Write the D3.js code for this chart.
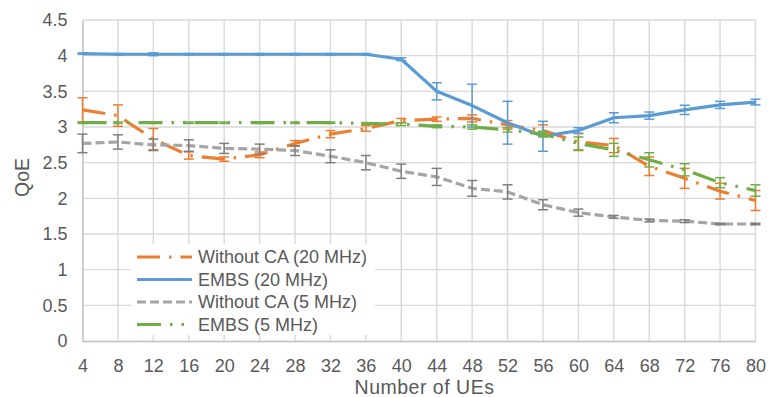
<!DOCTYPE html>
<html>
<head>
<meta charset="utf-8">
<script src="https://cdn.jsdelivr.net/npm/d3@7/dist/d3.min.js"></script>
<style>
  html, body { margin: 0; padding: 0; background: #fff; }
  svg { display: block; font-family: "Liberation Sans", Arial, sans-serif; }
</style>
</head>
<body>
<svg id="chart" width="768" height="397"></svg>
<script>
const categories = [4, 8, 12, 16, 20, 24, 28, 32, 36, 40, 44, 48, 52, 56, 60, 64, 68, 72, 76, 80];
const yTicks = [0, 0.5, 1, 1.5, 2, 2.5, 3, 3.5, 4, 4.5];

const seriesNames = ["Without CA (20 MHz)", "EMBS (20 MHz)", "Without CA (5 MHz)", "EMBS (5 MHz)"];

const withoutCA20 = [3.24, 3.16, 2.83, 2.60, 2.55, 2.61, 2.77, 2.90, 2.98, 3.09, 3.11, 3.12, 3.03, 2.95, 2.79, 2.74, 2.45, 2.28, 2.10, 1.97];
const withoutCA20Err = [0.17, 0.15, 0.15, 0.05, 0.03, 0.04, 0.04, 0.05, 0.04, 0.03, 0.03, 0.05, 0.06, 0.08, 0.12, 0.10, 0.13, 0.14, 0.11, 0.14];

const embs20 = [4.03, 4.02, 4.02, 4.02, 4.02, 4.02, 4.02, 4.02, 4.02, 3.95, 3.50, 3.30, 3.06, 2.87, 2.95, 3.13, 3.16, 3.24, 3.31, 3.35];
const embs20Err = [0.01, 0.01, 0.02, 0.01, 0.01, 0.01, 0.01, 0.01, 0.01, 0.02, 0.12, 0.30, 0.30, 0.21, 0.04, 0.07, 0.05, 0.065, 0.05, 0.04];

const withoutCA5 = [2.77, 2.79, 2.75, 2.74, 2.70, 2.69, 2.67, 2.59, 2.50, 2.38, 2.30, 2.14, 2.09, 1.91, 1.80, 1.74, 1.69, 1.68, 1.64, 1.64];
const withoutCA5Err = [0.13, 0.10, 0.08, 0.08, 0.07, 0.07, 0.07, 0.09, 0.10, 0.10, 0.12, 0.11, 0.10, 0.07, 0.05, 0.02, 0.02, 0.02, 0.01, 0.01];

const embs5 = [3.06, 3.06, 3.06, 3.06, 3.06, 3.06, 3.06, 3.06, 3.05, 3.04, 3.01, 3.00, 2.96, 2.90, 2.77, 2.68, 2.54, 2.40, 2.22, 2.11];
const embs5Err = [0.01, 0.01, 0.01, 0.01, 0.01, 0.01, 0.01, 0.01, 0.01, 0.02, 0.02, 0.03, 0.03, 0.04, 0.09, 0.09, 0.10, 0.085, 0.07, 0.08];

const series = [
  { name: seriesNames[0], values: withoutCA20, err: withoutCA20Err, color: "#ED7D31", errColor: "#ED7D31", dash: "23,9,2.5,9" },
  { name: seriesNames[1], values: embs20, err: embs20Err, color: "#5B9BD5", errColor: "#5B9BD5", dash: null },
  { name: seriesNames[2], values: withoutCA5, err: withoutCA5Err, color: "#A5A5A5", errColor: "#7F7F7F", dash: "9,4" },
  { name: seriesNames[3], values: embs5, err: embs5Err, color: "#70AD47", errColor: "#70AD47", dash: "24,9,2.5,9,2.5,9" }
];

(function () {
const svg = d3.select("#chart");
const textColor = "#595959";
const pLeft = 82.5, pRight = 755.5, pTop = 20, pBottom = 341;

const x = d3.scalePoint().domain(categories).range([pLeft, pRight]);
const y = d3.scaleLinear().domain([0, 4.5]).range([pBottom, pTop]);

// gridlines
const grid = svg.append("g");
grid.selectAll("line.h").data(yTicks.filter(d => d > 0)).join("line")
  .attr("class", "h")
  .attr("x1", pLeft).attr("x2", pRight)
  .attr("y1", d => y(d)).attr("y2", d => y(d))
  .attr("stroke", "#D9D9D9").attr("stroke-width", 1.4);
grid.selectAll("line.v").data(categories.slice(1)).join("line")
  .attr("class", "v")
  .attr("x1", d => x(d)).attr("x2", d => x(d))
  .attr("y1", pTop).attr("y2", pBottom)
  .attr("stroke", "#D9D9D9").attr("stroke-width", 1.4);

// axes
const yAxis = d3.axisLeft(y).tickValues(yTicks).tickSize(0).tickPadding(15).tickFormat(d3.format("~g"));
const gy = svg.append("g").attr("transform", `translate(${pLeft},0)`).call(yAxis);
gy.select(".domain").attr("stroke", "#BFBFBF").attr("stroke-width", 1.5);
gy.selectAll("text").attr("fill", textColor).style("font-size", "18px").attr("font-family", "Liberation Sans, Arial, sans-serif");

const xAxis = d3.axisBottom(x).tickSize(0).tickPadding(18.5);
const gx = svg.append("g").attr("transform", `translate(0,${pBottom})`).call(xAxis);
gx.select(".domain").attr("stroke", "#BFBFBF").attr("stroke-width", 1.5);
gx.selectAll("text").attr("fill", textColor).style("font-size", "18px").attr("font-family", "Liberation Sans, Arial, sans-serif");

// axis titles
svg.append("text").attr("x", 424.5).attr("y", 394)
  .attr("text-anchor", "middle").attr("fill", textColor).style("font-size", "19.5px")
  .style("letter-spacing", "0.5px")
  .text("Number of UEs");
svg.append("text").attr("transform", "translate(28.5,177.5) rotate(-90)")
  .attr("text-anchor", "middle").attr("fill", textColor).style("font-size", "19.5px")
  .text("QoE");

// series
const line = d3.line().x((d, i) => x(categories[i])).y(d => y(d));
series.forEach(s => {
  const g = svg.append("g");
  g.append("path").datum(s.values)
    .attr("d", line).attr("fill", "none")
    .attr("stroke", s.color).attr("stroke-width", 3.2)
    .attr("stroke-linejoin", "round")
    .attr("stroke-dasharray", s.dash);
  const eb = g.selectAll("g.eb").data(s.values.map((v, i) => ({ c: categories[i], v, e: s.err[i] }))).join("g").attr("class", "eb");
  eb.append("line")
    .attr("x1", d => x(d.c)).attr("x2", d => x(d.c))
    .attr("y1", d => y(d.v - d.e)).attr("y2", d => y(d.v + d.e))
    .attr("stroke", s.errColor).attr("stroke-width", 1.5);
  [-1, 1].forEach(sg => {
    eb.append("line")
      .attr("x1", d => x(d.c) - 5).attr("x2", d => x(d.c) + 5)
      .attr("y1", d => y(d.v + sg * d.e)).attr("y2", d => y(d.v + sg * d.e))
      .attr("stroke", s.errColor).attr("stroke-width", 1.5);
  });
});

// legend
const lg = svg.append("g");
lg.append("rect").attr("x", 131).attr("y", 244).attr("width", 244).attr("height", 91).attr("fill", "#fff");
const rowY = [257, 279.5, 302, 324.5];
series.forEach((s, i) => {
  lg.append("line").attr("x1", 137).attr("x2", 192).attr("y1", rowY[i]).attr("y2", rowY[i])
    .attr("stroke", s.color).attr("stroke-width", 3.2).attr("stroke-dasharray", s.dash);
  lg.append("text").attr("x", 198).attr("y", rowY[i]).attr("dy", "0.35em")
    .attr("fill", textColor).style("font-size", "18px").text(s.name);
});
})();
</script>
</body>
</html>
